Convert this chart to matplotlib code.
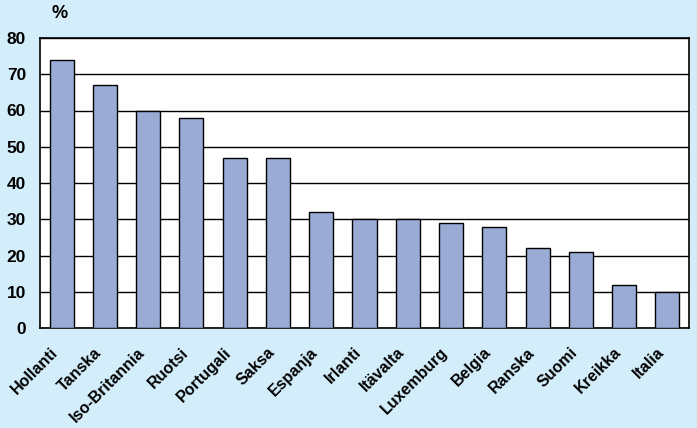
import matplotlib.pyplot as plt
import matplotlib.transforms as mtransforms
import numpy as np

maat = ['Hollanti', 'Tanska', 'Iso-Britannia', 'Ruotsi', 'Portugali', 'Saksa',
        'Espanja', 'Irlanti', 'Itävalta', 'Luxemburg', 'Belgia', 'Ranska',
        'Suomi', 'Kreikka', 'Italia']
arvot = [74, 67, 60, 58, 47, 47, 32, 30, 30, 29, 28, 22, 21, 12, 10]
yticks = [0, 10, 20, 30, 40, 50, 60, 70, 80]

bg = '#d3eefa'
plt.rcParams['font.family'] = ['Liberation Sans', 'DejaVu Sans']

fig = plt.figure(figsize=(6.97, 4.28), dpi=100, facecolor=bg)
ax = fig.add_axes([40/697, 1-328/428, 649/697, 290/428])
ax.set_facecolor('white')

x = np.arange(len(maat))
ax.bar(x, arvot, width=0.555, color='#9aabd5', edgecolor='black', linewidth=1, zorder=3)
ax.set_xlim(-0.5, len(maat)-0.5)
ax.set_ylim(0, 80)
ax.set_yticks(yticks)
ax.set_yticklabels([str(v) for v in yticks], fontsize=12.5, fontweight='bold')
ax.yaxis.grid(True, color='black', linewidth=1, zorder=0)
ax.tick_params(axis='y', length=0, pad=10)
ax.tick_params(axis='x', length=0, pad=12)
ax.set_xticks(x)
ax.set_xticklabels(maat, rotation=45, ha='right', va='top', rotation_mode='anchor',
                   fontsize=11.5, fontweight='bold')
siirto = mtransforms.ScaledTranslation(-0.11, 0, fig.dpi_scale_trans)
for lab in ax.get_xticklabels():
    lab.set_transform(lab.get_transform() + siirto)
for s in ax.spines.values():
    s.set_color('black')
    s.set_linewidth(1.2)

fig.text(60/697, 1-14/428, '%', fontsize=13, fontweight='bold', ha='center', va='center')

fig.savefig('out.png', dpi=100, facecolor=bg)
